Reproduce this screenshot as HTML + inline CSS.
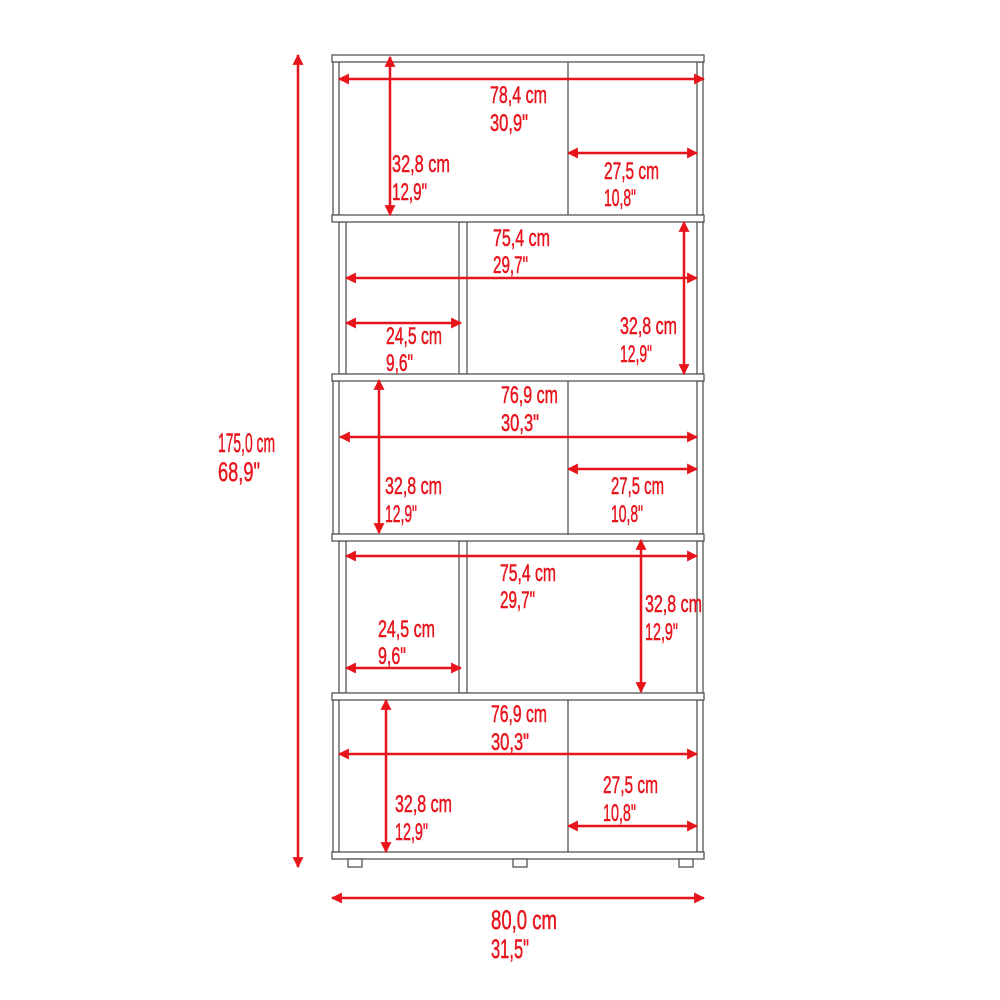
<!DOCTYPE html>
<html><head><style>body{margin:0;background:#fff}svg{display:block}</style></head><body>
<svg width="1000" height="1000" viewBox="0 0 1000 1000" xmlns="http://www.w3.org/2000/svg">
<defs>
<marker id="a" viewBox="0 0 10 10" refX="9" refY="5" markerWidth="4.4" markerHeight="4.4" orient="auto-start-reverse"><path d="M0,0L10,5L0,10z" fill="#e8141c"/></marker>
</defs>
<g fill="#fff" stroke="#555" stroke-width="1.3">
<rect x="333" y="62" width="6" height="153"/><rect x="697" y="62" width="6" height="153"/>
<rect x="333" y="381" width="6" height="153"/><rect x="697" y="381" width="6" height="153"/>
<rect x="333" y="700" width="6" height="152"/><rect x="697" y="700" width="6" height="152"/>
<rect x="339" y="222" width="7" height="152"/><rect x="697" y="222" width="6" height="152"/>
<rect x="339" y="541" width="7" height="152"/><rect x="697" y="541" width="6" height="152"/>
<rect x="459" y="222" width="8" height="152"/><rect x="459" y="541" width="8" height="152"/>
<line x1="568" y1="62" x2="568" y2="215"/><line x1="568" y1="381" x2="568" y2="534"/><line x1="568" y1="700" x2="568" y2="852"/>
<rect x="332" y="55" width="372" height="7"/><rect x="332" y="215" width="372" height="7"/>
<rect x="332" y="374" width="372" height="7"/><rect x="332" y="534" width="372" height="7"/>
<rect x="332" y="693" width="372" height="7"/><rect x="332" y="852" width="372" height="7"/>
<rect x="348" y="859" width="14" height="8"/><rect x="513" y="859" width="14" height="8"/><rect x="679" y="859" width="14" height="8"/>
</g>
<g stroke="#e8141c" stroke-width="2.5" marker-start="url(#a)" marker-end="url(#a)">
<line x1="339" y1="79" x2="704" y2="79"/><line x1="390" y1="57" x2="390" y2="215"/><line x1="568" y1="153" x2="697" y2="153"/>
<line x1="346" y1="278" x2="697" y2="278"/><line x1="684" y1="222" x2="684" y2="374"/><line x1="346" y1="323" x2="461" y2="323"/>
<line x1="340" y1="437" x2="697" y2="437"/><line x1="379" y1="380" x2="379" y2="533"/><line x1="568" y1="469" x2="697" y2="469"/>
<line x1="346" y1="556" x2="697" y2="556"/><line x1="641" y1="540" x2="641" y2="692"/><line x1="346" y1="668" x2="461" y2="668"/>
<line x1="339" y1="754" x2="697" y2="754"/><line x1="386" y1="700" x2="386" y2="852"/><line x1="568" y1="826" x2="697" y2="826"/>
<line x1="298" y1="55" x2="298" y2="867"/><line x1="332" y1="898" x2="704" y2="898"/>
</g>
<g fill="#e8141c" stroke="#e8141c" stroke-width="0.5" font-family="Liberation Sans, sans-serif" font-size="24">
<text x="490" y="103" textLength="57" lengthAdjust="spacingAndGlyphs">78,4 cm</text><text x="490" y="131" textLength="38" lengthAdjust="spacingAndGlyphs">30,9"</text>
<text x="392" y="172" textLength="58" lengthAdjust="spacingAndGlyphs">32,8 cm</text><text x="392" y="200" textLength="35" lengthAdjust="spacingAndGlyphs">12,9"</text>
<text x="604" y="179" textLength="55" lengthAdjust="spacingAndGlyphs">27,5 cm</text><text x="604" y="206" textLength="32" lengthAdjust="spacingAndGlyphs">10,8"</text>

<text x="493" y="246" textLength="57" lengthAdjust="spacingAndGlyphs">75,4 cm</text><text x="493" y="273" textLength="35" lengthAdjust="spacingAndGlyphs">29,7"</text>
<text x="620" y="334" textLength="57" lengthAdjust="spacingAndGlyphs">32,8 cm</text><text x="620" y="362" textLength="32" lengthAdjust="spacingAndGlyphs">12,9"</text>
<text x="386" y="344" textLength="56" lengthAdjust="spacingAndGlyphs">24,5 cm</text><text x="386" y="371" textLength="27" lengthAdjust="spacingAndGlyphs">9,6"</text>

<text x="501" y="403" textLength="57" lengthAdjust="spacingAndGlyphs">76,9 cm</text><text x="501" y="431" textLength="38" lengthAdjust="spacingAndGlyphs">30,3"</text>
<text x="385" y="494" textLength="57" lengthAdjust="spacingAndGlyphs">32,8 cm</text><text x="385" y="522" textLength="32" lengthAdjust="spacingAndGlyphs">12,9"</text>
<text x="611" y="494" textLength="53" lengthAdjust="spacingAndGlyphs">27,5 cm</text><text x="611" y="522" textLength="32" lengthAdjust="spacingAndGlyphs">10,8"</text>

<text x="500" y="581" textLength="56" lengthAdjust="spacingAndGlyphs">75,4 cm</text><text x="500" y="608" textLength="35" lengthAdjust="spacingAndGlyphs">29,7"</text>
<text x="645" y="612" textLength="57" lengthAdjust="spacingAndGlyphs">32,8 cm</text><text x="645" y="640" textLength="33" lengthAdjust="spacingAndGlyphs">12,9"</text>
<text x="378" y="637" textLength="57" lengthAdjust="spacingAndGlyphs">24,5 cm</text><text x="378" y="664" textLength="28" lengthAdjust="spacingAndGlyphs">9,6"</text>

<text x="491" y="722" textLength="56" lengthAdjust="spacingAndGlyphs">76,9 cm</text><text x="491" y="750" textLength="38" lengthAdjust="spacingAndGlyphs">30,3"</text>
<text x="395" y="812" textLength="57" lengthAdjust="spacingAndGlyphs">32,8 cm</text><text x="395" y="840" textLength="33" lengthAdjust="spacingAndGlyphs">12,9"</text>
<text x="603" y="793" textLength="55" lengthAdjust="spacingAndGlyphs">27,5 cm</text><text x="603" y="821" textLength="33" lengthAdjust="spacingAndGlyphs">10,8"</text>
</g>
<g fill="#e8141c" stroke="#e8141c" stroke-width="0.5" font-family="Liberation Sans, sans-serif" font-size="27">
<text x="218" y="452" textLength="57" lengthAdjust="spacingAndGlyphs">175,0 cm</text><text x="218" y="481" textLength="42" lengthAdjust="spacingAndGlyphs">68,9"</text>
<text x="491" y="929" textLength="66" lengthAdjust="spacingAndGlyphs">80,0 cm</text><text x="491" y="958" textLength="38" lengthAdjust="spacingAndGlyphs">31,5"</text>
</g>
</svg>
</body></html>
